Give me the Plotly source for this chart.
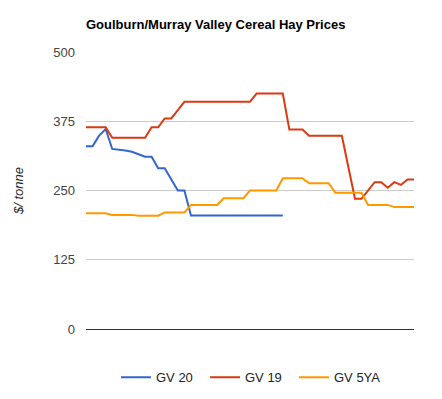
import plotly.graph_objects as go

weeks = list(range(51))

gv20 = [330, 330, 349, 361, 325, 324, 322, 320, 316, 311, 311, 290, 290, 270, 250, 250,
        205, 205, 205, 205, 205, 205, 205, 205, 205, 205, 205, 205, 205, 205, 205] + [None] * 20

gv19 = [364, 364, 364, 364, 345, 345, 345, 345, 345, 345, 364, 364, 380, 380, 395,
        410, 410, 410, 410, 410, 410, 410, 410, 410, 410, 410,
        425, 425, 425, 425, 425,
        360, 360, 360, 349, 349, 349, 349, 349, 349,
        292, 235, 235, 250, 265, 265, 255, 265, 260, 270, 270]

gv5ya = [209, 209, 209, 209, 206, 206, 206, 206, 204.5, 204.5, 204.5, 204.5,
         210.5, 210.5, 210.5, 210.5, 224, 224, 224, 224, 224, 236, 236, 236, 236,
         250, 250, 250, 250, 250, 272, 272, 272, 272, 263, 263, 263, 263,
         246, 246, 246, 246, 246, 224, 224, 224, 224, 220, 220, 220, 220]

y_ticks = [0, 125, 250, 375, 500]

series = [("GV 20", gv20, "#3366cc"), ("GV 19", gv19, "#dc3912"), ("GV 5YA", gv5ya, "#ff9900")]
legend_ids = ["legend", "legend2", "legend3"]
legend_x = [30 / 328, 119 / 328, 208 / 328]

fig = go.Figure()
for (name, vals, color), lid in zip(series, legend_ids):
    fig.add_trace(go.Scatter(x=weeks, y=vals, name=name, mode="lines", legend=lid,
                             line=dict(color=color, width=2), connectgaps=False))

legend_style = dict(orientation="h", xanchor="left", y=-0.12, yanchor="top",
                    font=dict(size=13, color="#222222"), bgcolor="rgba(0,0,0,0)")

fig.update_layout(
    width=442, height=399,
    margin=dict(l=78, r=36, t=44, b=78, autoexpand=False),
    paper_bgcolor="white", plot_bgcolor="white",
    font=dict(family="Liberation Sans, Arial, sans-serif", size=13, color="#222222"),
    title=dict(text="<b>Goulburn/Murray Valley Cereal Hay Prices</b>",
               x=78 / 442, xanchor="left", xref="container",
               y=1 - 16 / 399, yanchor="middle", yref="container",
               font=dict(size=13, color="#000000")),
    xaxis=dict(range=[0, 50], showgrid=False, showticklabels=False, zeroline=False,
               showline=False, ticks="", automargin=False),
    yaxis=dict(range=[0, 500], tickvals=y_ticks, showgrid=True, gridcolor="#cccccc",
               gridwidth=1, zeroline=True, zerolinecolor="#333333", zerolinewidth=1,
               ticks="", ticklabelstandoff=10, tickfont=dict(color="#444444", size=13),
               automargin=False,
               title=dict(text="<i>$/ tonne</i>", standoff=26,
                          font=dict(size=13, color="#222222"))),
    legend=dict(x=legend_x[0], **legend_style),
    legend2=dict(x=legend_x[1], **legend_style),
    legend3=dict(x=legend_x[2], **legend_style),
    showlegend=True,
)

fig.write_html("out.html")
